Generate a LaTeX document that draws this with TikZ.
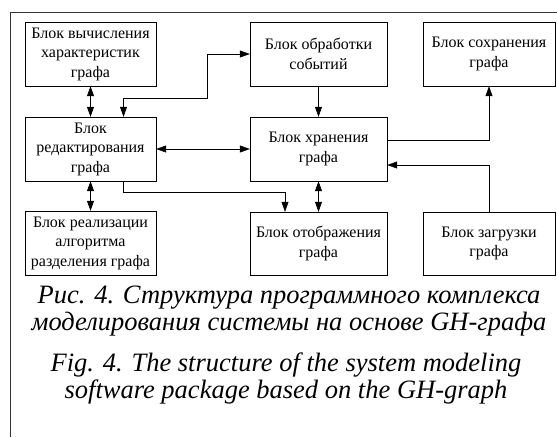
\documentclass[tikz,border=0pt]{standalone}
\usepackage{fontspec}
\setmainfont{Liberation Serif}
\usetikzlibrary{calc}
\usetikzlibrary{arrows.meta}
\tikzset{
  blok/.style= {draw, rectangle, align=center, inner sep=2, font=\fontsize{16}{19.5}\selectfont},
  podpis/.style= {align=center, inner sep=0, font=\fontsize{26.5}{27}\selectfont\itshape},
  svyaz/.style= {semithick, -{Triangle[length=10pt, width=7pt]}},
  dvsvyaz/.style= {semithick, {Triangle[length=10pt, width=7pt]}-{Triangle[length=10pt, width=7pt]}},
}

\begin{document}
\begin{tikzpicture}[x=1pt, y=-1pt]
  \useasboundingbox (0,0) rectangle (557,437) ;
  \draw [thick, black!80] (10,437) -- (10,12) -- (557,12) ;

  \node [blok, minimum width=131, minimum height=64] (vych) at (90.5,54) {Блок вычисления\\характеристик\\графа} ;
  \node [blok, minimum width=137, minimum height=64] (obr) at (318.5,54) {Блок обработки\\событий} ;
  \node [blok, minimum width=132, minimum height=64] (sohr) at (489,54) {Блок сохранения\\графа} ;
  \node [blok, minimum width=131, minimum height=64] (red) at (90.5,149) {Блок\\редактирования\\графа} ;
  \node [blok, minimum width=137, minimum height=64] (hran) at (318.5,149) {Блок хранения\\графа} ;
  \node [blok, minimum width=131, minimum height=64] (real) at (90.5,243) {Блок реализации\\алгоритма\\разделения графа} ;
  \node [blok, minimum width=137, minimum height=63] (otobr) at (318.5,243.5) {Блок отображения\\графа} ;
  \node [blok, minimum width=132, minimum height=63] (zagr) at (489,243.5) {Блок загрузки\\графа} ;

  \node [podpis] (rus) at (289,311) {Рис. 4. Структура программного комплекса\\моделирования системы на основе GH-графа} ;
  \node [podpis] (eng) at (286,378) {Fig. 4. The structure of the system modeling\\software package based on the GH-graph} ;

  \draw [dvsvyaz] (vych) -- (red) ;
  \draw [dvsvyaz] (red) -- (real) ;
  \draw [dvsvyaz] (red) -- (hran) ;
  \draw [dvsvyaz] (hran) -- (otobr) ;
  \draw [dvsvyaz] (obr.west) -| (207,98) -| ([xshift=33pt]red.north) ;
  \draw [svyaz] (obr) -- (hran) ;
  \draw [svyaz] ([yshift=9pt]hran.east) -| (sohr.south) ;
  \draw [svyaz] (zagr.north) |- ([yshift=-16pt]hran.east) ;
  \draw [svyaz] ([xshift=33pt]red.south) -- ++(0,11) -| ([xshift=-33.5pt]otobr.north) ;
\end{tikzpicture}
\end{document}
